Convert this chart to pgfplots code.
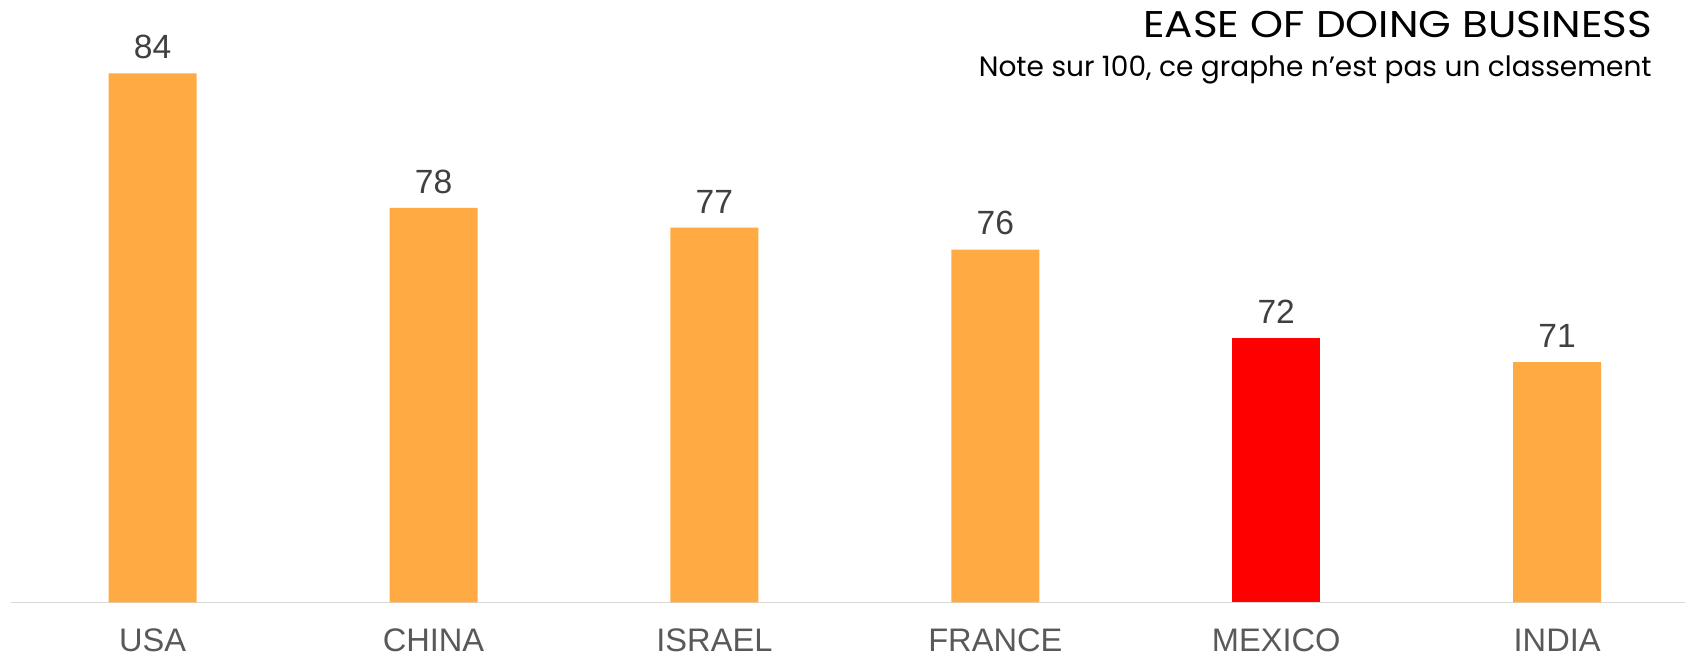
\documentclass[border=0pt]{standalone}
\usepackage{pgfplots}
\pgfplotsset{compat=1.18}
\usepackage{fontspec}
\setmainfont{Liberation Sans}
\newfontfamily\poppins{Poppins}
\definecolor{barorange}{HTML}{FFAA42}
\definecolor{barred}{HTML}{FF0000}
\definecolor{labgray}{HTML}{404040}
\definecolor{tickgray}{HTML}{595959}
\definecolor{axgray}{HTML}{D9D9D9}
\begin{document}
\begin{tikzpicture}
\useasboundingbox (0,0) rectangle (842.5pt,327.5pt);
\begin{axis}[
  at={(5.35pt,26.35pt)}, anchor=south west,
  scale only axis, width=837.15pt, height=264.5pt,
  xmin=-0.5052, xmax=5.4553, ymin=60, ymax=84,
  clip=false,
  axis x line*=bottom, axis y line=none,
  x axis line style={draw=axgray, line width=0.7pt},
  ybar, bar width=44pt,
  xtick={0,1,2,3,4,5},
  xticklabels={USA,CHINA,ISRAEL,FRANCE,MEXICO,INDIA},
  major tick length=0pt,
  xticklabel style={font=\fontsize{16.3}{19}\selectfont, text=tickgray, anchor=north, inner sep=0pt, yshift=-13pt},
  nodes near coords,
  point meta=y,
  nodes near coords style={font=\fontsize{16.8}{20}\selectfont, text=labgray, anchor=south, inner sep=0pt, yshift=7pt, /pgf/number format/fixed, /pgf/number format/precision=0, /pgf/number format/assume math mode=true},
]
\addplot[fill=barorange, draw=none, bar shift=0pt] coordinates {(0,84.0) (1,77.9) (2,77.0) (3,76.0) (5,70.9)};
\addplot[fill=barred, draw=none, bar shift=0pt] coordinates {(4,72.0)};
\end{axis}
\node[anchor=base east, inner sep=0pt, font=\poppins\fontsize{18.6}{21}\selectfont] at (826.3pt,308.65pt) {\scalebox{1.13}[1]{EASE OF DOING BUSINESS}};
\node[anchor=base east, inner sep=0pt, font=\poppins\fontsize{14}{17}\selectfont] at (826pt,289.35pt) {Note sur 100, ce graphe n’est pas un classement};
\end{tikzpicture}
\end{document}
